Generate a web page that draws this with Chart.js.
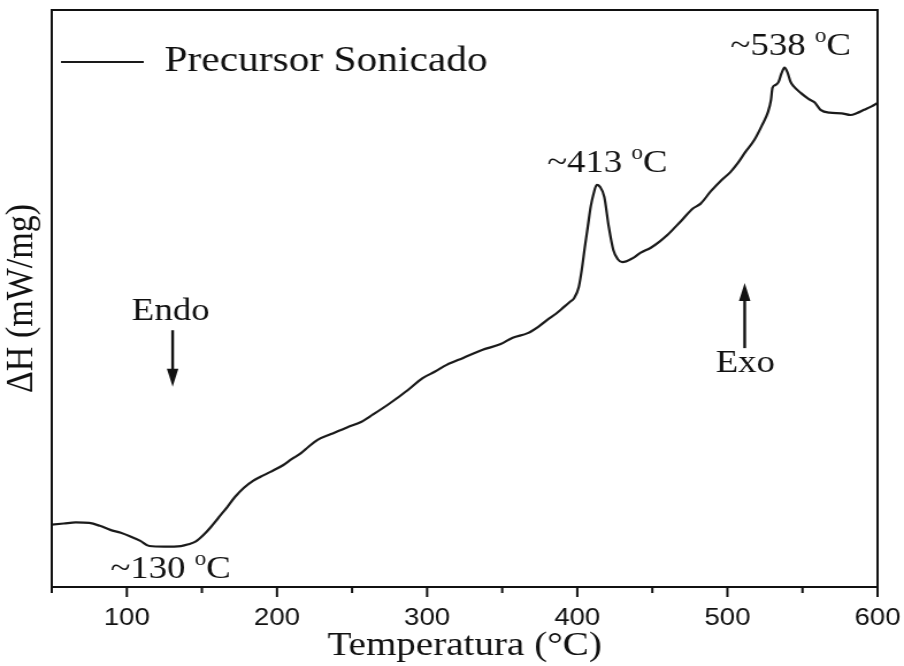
<!DOCTYPE html>
<html>
<head>
<meta charset="utf-8">
<title>DSC - Precursor Sonicado</title>
<script src="https://cdn.jsdelivr.net/npm/chart.js@4.4.1/dist/chart.umd.min.js"></script>
<style>
  body { margin: 0; background: #fff; }
  #dsc { display: block; }
</style>
</head>
<body>
<!-- drawn a bit narrower and widened by css, like the printed figure -->
<canvas id="dsc" width="786" height="666" style="width:904px;height:666px"></canvas>
<script>
// temperatura (°C) and heat flow (arb. units, exo up)
let temps = [50, 58, 66, 75, 82, 89, 96, 102, 109, 115, 125, 136, 141, 146, 151, 156, 161, 167, 172, 178,
    184, 189, 196, 204, 210, 216, 221, 227, 236, 247, 256, 264, 275, 287, 297, 305, 313, 324, 337, 349,
    357, 367, 374, 380, 386, 391, 395, 398, 401, 403, 405, 407, 409, 411, 413, 415, 418, 421, 424, 427,
    430, 437, 442, 449, 455, 460, 469, 477, 482, 489, 496, 502, 507, 512, 518, 523, 527, 529, 530, 532,
    534, 536, 538, 540, 542, 544, 549, 554, 558, 562, 568, 576, 582, 586, 591, 596, 600];
let heatFlow = [10.8, 11.0, 11.2, 11.1, 10.6, 9.9, 9.4, 8.8, 8.0, 7.1, 7.0, 7.1, 7.4, 7.9, 9.0, 10.4, 12.0, 13.9, 15.6, 17.2,
    18.4, 19.1, 20.0, 21.1, 22.2, 23.2, 24.3, 25.5, 26.5, 27.7, 28.6, 29.9, 31.8, 34.1, 36.2, 37.3, 38.5, 39.7, 41.1, 42.1,
    43.2, 44.0, 45.1, 46.3, 47.4, 48.5, 49.4, 50.1, 52.0, 55.0, 58.8, 62.4, 66.0, 68.3, 69.7, 69.4, 67.6, 62.4, 58.4, 56.8,
    56.3, 57.0, 57.9, 58.8, 59.9, 61.0, 63.4, 65.6, 66.4, 68.6, 70.5, 71.9, 73.5, 75.4, 77.5, 80.0, 82.3, 84.4, 86.5, 87.0,
    87.5, 89.0, 90.0, 89.2, 87.6, 86.8, 85.6, 84.6, 84.0, 82.7, 82.2, 82.1, 81.8, 82.1, 82.7, 83.3, 83.9];

let tickValues = [100, 200, 300, 400, 500, 600];
let minorTicks = [50, 150, 250, 350, 450, 550];

// peak temperatures written over the curve
let peakLabels = [
    { text: '~130 ', x: 89, y: 1.6 },
    { text: '~413 ', x: 380, y: 72.0 },
    { text: '~538 ', x: 502, y: 92.2 }
];
let arrows = [
    { text: 'Endo', tx: 103.3, ty: 46.3, x: 130.5, from: 44.5, to: 34.7 },
    { text: 'Exo', tx: 492.2, ty: 37.3, x: 511.5, from: 41.4, to: 52.7 }
];

const ink = '#111';
const serif = '"Liberation Serif", "Times New Roman", serif';
const sans = '"Liberation Sans", Arial, sans-serif';

// "~413 " + superscript o + "C"
function degText(ctx, str, x, y, size) {
    ctx.font = `${size}px ${serif}`;
    ctx.fillText(str, x, y);
    let w = ctx.measureText(str).width;
    ctx.font = `${Math.round(size * 0.62)}px ${serif}`;
    ctx.fillText('o', x + w, y - size * 0.4);
    w += ctx.measureText('o').width;
    ctx.font = `${size}px ${serif}`;
    ctx.fillText('C', x + w, y);
}

const extras = {
    id: 'extras',
    afterDatasetsDraw(chart) {
        const { ctx, chartArea: a, scales: { x, y } } = chart;
        ctx.save();
        ctx.strokeStyle = ink;
        ctx.fillStyle = ink;
        ctx.lineWidth = 2;
        ctx.strokeRect(a.left, a.top, a.right - a.left, a.bottom - a.top);

        ctx.beginPath();
        tickValues.forEach(v => {
            let px = x.getPixelForValue(v);
            ctx.moveTo(px, a.bottom);
            ctx.lineTo(px, a.bottom + 10);
        });
        minorTicks.forEach(v => {
            let px = x.getPixelForValue(v);
            ctx.moveTo(px, a.bottom);
            ctx.lineTo(px, a.bottom + 6);
        });
        ctx.stroke();

        ctx.textBaseline = 'alphabetic';
        ctx.textAlign = 'left';
        peakLabels.forEach(p => {
            degText(ctx, p.text, x.getPixelForValue(p.x), y.getPixelForValue(p.y), 32);
        });

        arrows.forEach(ar => {
            ctx.font = `32px ${serif}`;
            ctx.fillText(ar.text, x.getPixelForValue(ar.tx), y.getPixelForValue(ar.ty));
            let px = x.getPixelForValue(ar.x);
            let y0 = y.getPixelForValue(ar.from);
            let y1 = y.getPixelForValue(ar.to);
            let dir = y1 > y0 ? 1 : -1;
            ctx.lineWidth = 2.4;
            ctx.beginPath();
            ctx.moveTo(px, y0);
            ctx.lineTo(px, y1 - dir * 14);
            ctx.stroke();
            ctx.beginPath();
            ctx.moveTo(px, y1);
            ctx.lineTo(px - 5, y1 - dir * 18);
            ctx.lineTo(px + 5, y1 - dir * 18);
            ctx.closePath();
            ctx.fill();
        });
        ctx.restore();
    }
};

new Chart(document.getElementById('dsc'), {
    type: 'line',
    data: {
        labels: temps,
        datasets: [{
            label: 'Precursor Sonicado',
            data: temps.map((t, i) => ({ x: t, y: heatFlow[i] })),
            borderColor: '#1a1a1a',
            borderWidth: 2.2,
            pointRadius: 0,
            cubicInterpolationMode: 'monotone',
            fill: false
        }]
    },
    options: {
        responsive: false,
        animation: false,
        devicePixelRatio: 1,
        layout: { padding: { top: 10, right: 23, bottom: 0, left: 0 } },
        plugins: {
            tooltip: { enabled: false },
            legend: {
                position: 'chartArea',
                align: 'start',
                title: { display: true, text: '', padding: { top: 0, bottom: 24 }, font: { size: 10 } },
                labels: {
                    usePointStyle: true,
                    pointStyle: 'line',
                    pointStyleWidth: 72,
                    padding: 8,
                    color: ink,
                    font: { family: serif, size: 36 }
                }
            }
        },
        scales: {
            x: {
                type: 'linear',
                min: 50,
                max: 600,
                afterBuildTicks: s => { s.ticks = tickValues.map(v => ({ value: v })); },
                afterFit: s => {
                    s.height = 79;
                    s.paddingLeft = 0;
                    s.paddingRight = 0;
                },
                grid: { display: false, drawTicks: false },
                border: { display: false },
                ticks: { color: ink, padding: 17, font: { family: sans, size: 24 } },
                title: {
                    display: true,
                    text: 'Temperatura (°C)',
                    color: ink,
                    padding: 0,
                    font: { family: serif, size: 34 }
                }
            },
            y: {
                min: 0,
                max: 100,
                afterFit: s => { s.width = 45; },
                grid: { display: false, drawTicks: false },
                border: { display: false },
                ticks: { display: false },
                title: {
                    display: true,
                    text: 'ΔH (mW/mg)',
                    color: ink,
                    padding: 0,
                    font: { family: serif, size: 34, lineHeight: 1.12 }
                }
            }
        }
    },
    plugins: [extras]
});
</script>
</body>
</html>
